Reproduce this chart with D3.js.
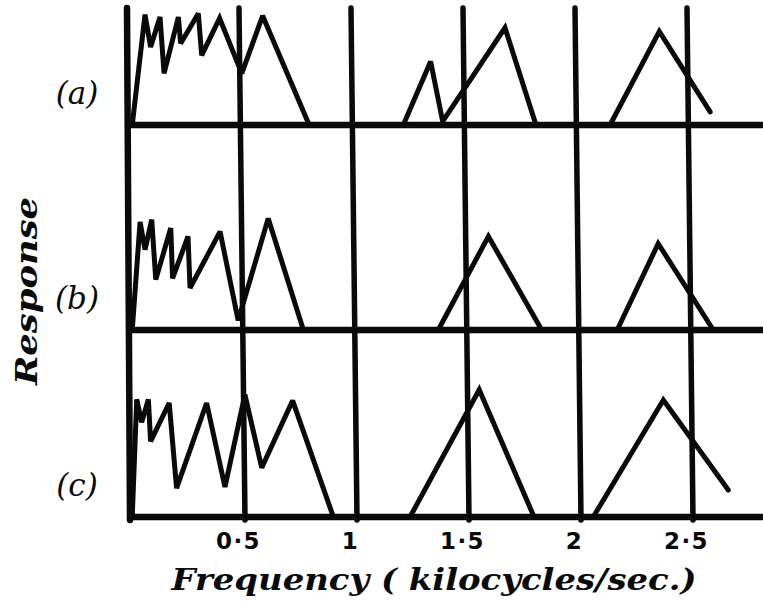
<!DOCTYPE html>
<html>
<head>
<meta charset="utf-8">
<script src="https://cdn.jsdelivr.net/npm/d3@7"></script>
<style>
  html, body { margin: 0; padding: 0; background: #fff; }
  svg { display: block; }
</style>
</head>
<body>
<svg id="chart" width="763" height="605"></svg>
<script>
// Frequency ticks (kilocycles/sec) and their printed labels
const tickValues = [0.5, 1, 1.5, 2, 2.5];
const tickLabels = ["0·5", "1", "1·5", "2", "2·5"];
const panelLabels = ["(a)", "(b)", "(c)"];
const xTitle = "Frequency ( kilocycles/sec.)";
const yTitle = "Response";

// Response traces, one list of separate segments per panel: [frequency, response]
const responseA = [
  [[0.01, 0], [0.067, 92], [0.092, 65], [0.134, 90], [0.152, 43], [0.216, 90], [0.226, 68],
   [0.305, 93], [0.32, 58], [0.40, 89], [0.499, 43], [0.592, 91], [0.80, 0]],
  [[1.22, 0], [1.342, 53], [1.396, 3], [1.674, 81], [1.8125, 0]],
  [[2.143, 0], [2.363, 78], [2.59, 11]]
];
const responseB = [
  [[0.01, 0], [0.045, 90], [0.067, 67], [0.097, 92], [0.115, 42], [0.182, 85], [0.19, 43],
   [0.259, 78], [0.268, 35], [0.402, 82], [0.483, 8], [0.617, 93], [0.774, 0]],
  [[1.376, 0], [1.6, 78], [1.838, 0]],
  [[2.175, 0], [2.358, 72], [2.604, 0]]
];
const responseC = [
  [[0.01, 0], [0.03, 98], [0.052, 79], [0.082, 98], [0.092, 63], [0.175, 95], [0.208, 24],
   [0.342, 95], [0.424, 25], [0.513, 102], [0.588, 41], [0.726, 97], [0.908, 0]],
  [[1.25, 0], [1.559, 106], [1.804, 0]],
  [[2.068, 0], [2.381, 97.5], [2.671, 22.5]]
];
const panels = [responseA, responseB, responseC];

// Layout
const W = 763, H = 605;
const baselines = [125, 330, 517];
const frameTop = 8;
const frameBottom = 520;
const ink = "#0a0a0a";

const svg = d3.select("#chart");
svg.append("rect").attr("width", W).attr("height", H).attr("fill", "#fff");

const x = d3.scaleLinear().domain([0, 2.5]).range([130, 690]);
const h = d3.scaleLinear().domain([0, 100]).range([0, 120]);

// Vertical guide lines at each frequency tick (slightly hand-slanted), plus the left axis
const lean = 6;
svg.append("g").selectAll("line").data(tickValues).join("line")
  .attr("x1", d => x(d) - lean / 2).attr("y1", frameTop)
  .attr("x2", d => x(d) + lean / 2).attr("y2", frameBottom)
  .attr("stroke", ink).attr("stroke-width", 5.5).attr("stroke-linecap", "round");

svg.append("line")
  .attr("x1", x(0) - 3).attr("y1", frameTop)
  .attr("x2", x(0)).attr("y2", frameBottom)
  .attr("stroke", ink).attr("stroke-width", 6.5).attr("stroke-linecap", "round");

// Panel baselines
svg.append("g").selectAll("line").data(baselines).join("line")
  .attr("x1", x(0) - 3).attr("x2", W)
  .attr("y1", d => d).attr("y2", d => d)
  .attr("stroke", ink).attr("stroke-width", 6.5);

// Response traces
panels.forEach((segments, i) => {
  const base = baselines[i];
  const line = d3.line()
    .x(d => x(d[0]))
    .y(d => base - h(d[1]));
  svg.append("g").selectAll("path").data(segments).join("path")
    .attr("d", line)
    .attr("fill", "none")
    .attr("stroke", ink)
    .attr("stroke-width", 5)
    .attr("stroke-linejoin", "miter")
    .attr("stroke-miterlimit", 2.6)
    .attr("stroke-linecap", "round");
});

// Panel labels
svg.append("g").selectAll("text").data(panelLabels).join("text")
  .attr("x", 77)
  .attr("y", (d, i) => baselines[i] - 21)
  .attr("text-anchor", "middle")
  .attr("font-family", "'DejaVu Serif', 'Liberation Serif', serif")
  .attr("font-style", "italic")
  .attr("font-size", 31)
  .attr("fill", ink)
  .text(d => d);

// Frequency axis labels
const axis = d3.axisBottom(x)
  .tickValues(tickValues)
  .tickFormat((d, i) => tickLabels[i])
  .tickSize(0);
const gx = svg.append("g").attr("transform", `translate(0,${frameBottom})`).call(axis);
gx.select(".domain").remove();
gx.selectAll("text")
  .attr("x", -4)
  .attr("y", 29).attr("dy", 0)
  .attr("font-family", "'DejaVu Sans', 'Liberation Sans', sans-serif")
  .attr("font-weight", "bold")
  .attr("font-size", 23)
  .attr("letter-spacing", 1.5)
  .attr("fill", ink);

// Axis titles
svg.append("text")
  .attr("x", 434).attr("y", 590)
  .attr("text-anchor", "middle")
  .attr("font-family", "'DejaVu Serif', 'Liberation Serif', serif")
  .attr("font-style", "italic")
  .attr("font-weight", "bold")
  .attr("font-size", 29)
  .attr("textLength", 525)
  .attr("lengthAdjust", "spacingAndGlyphs")
  .attr("fill", ink)
  .text(xTitle);

svg.append("text")
  .attr("transform", "translate(37,291) rotate(-90)")
  .attr("text-anchor", "middle")
  .attr("font-family", "'DejaVu Serif', 'Liberation Serif', serif")
  .attr("font-style", "italic")
  .attr("font-weight", "bold")
  .attr("font-size", 30)
  .attr("textLength", 188)
  .attr("lengthAdjust", "spacingAndGlyphs")
  .attr("fill", ink)
  .text(yTitle);
</script>
</body>
</html>
